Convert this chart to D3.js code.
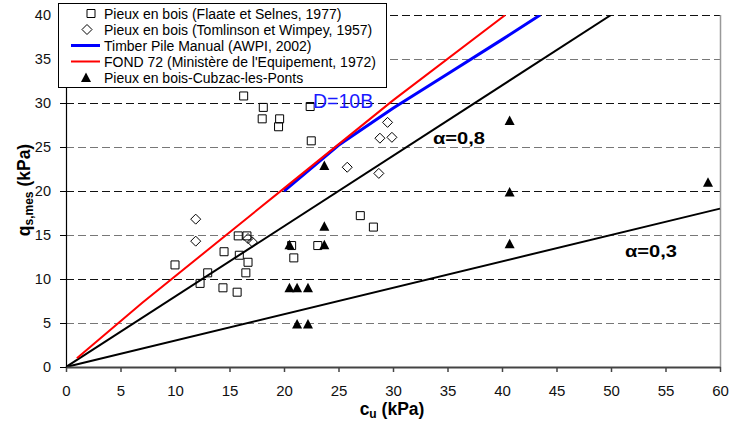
<!DOCTYPE html>
<html><head><meta charset="utf-8">
<script src="https://cdn.jsdelivr.net/npm/d3@7"></script>
<style>body{margin:0;background:#fff}svg{display:block}text{font-family:"Liberation Sans",Arial,sans-serif}</style>
</head><body>
<svg id="c" width="731" height="425"></svg>
<script>
// ---- data ----
const xTicks = [0,5,10,15,20,25,30,35,40,45,50,55,60];
const yTicks = [0,5,10,15,20,25,30,35,40];
const flaateCu = [16.3,18.1,18.0,19.6,19.5,22.4,22.5,27.0,28.2,16.6,20.7,23.1,20.9,16.7,16.5,10.0,13.0,12.3,14.5,14.4,15.7,15.8,15.9];
const flaateQ  = [30.8,29.5,28.2,28.2,27.3,29.6,25.7,17.2,15.9,14.9,13.8,13.8,12.4,11.9,10.7,11.6,10.7,9.5,13.1,9.0,8.5,14.9,12.7];
const tomlinsonCu = [11.9,11.9,16.7,17.1,29.5,28.8,29.9,25.8,28.7];
const tomlinsonQ  = [16.8,14.3,14.6,14.2,27.8,26.0,26.1,22.7,22.0];
const cubzacCu = [23.7,23.7,20.5,23.7,20.5,21.2,22.2,21.2,22.2,40.7,40.7,40.7,58.9];
const cubzacQ  = [22.9,16.0,13.9,13.9,9.0,9.0,9.0,4.9,4.9,28.0,19.9,14.0,21.0];
const timberCu = [20,25,30,35,40,43.5];
const timberQ  = [20,25.2,29.4,33.3,37.2,40];
const fondCu = [1,7,20,30,40.3];
const fondQ  = [1,7.3,20.3,30.3,40];
const alpha08Cu = [0,50], alpha08Q = [0,40];
const alpha03Cu = [0,60], alpha03Q = [0,18];
const legendLabels = ["Pieux en bois (Flaate et Selnes, 1977)","Pieux en bois (Tomlinson et Wimpey, 1957)","Timber Pile Manual (AWPI, 2002)","FOND 72 (Ministère de l'Equipement, 1972)","Pieux en bois-Cubzac-les-Ponts"];

// ---- chart ----
const svg = d3.select("#c");
const L=66,R=720,T=15,B=367;
const x = d3.scaleLinear([0,60],[L,R]);
const y = d3.scaleLinear([0,40],[B,T]);

svg.append("clipPath").attr("id","clip").append("rect").attr("x",L).attr("y",T).attr("width",R-L).attr("height",B-T);

// gridlines
svg.append("g").selectAll("line").data(yTicks.filter(d=>d>0)).join("line")
  .attr("x1",L).attr("x2",R).attr("y1",d=>Math.round(y(d))+0.5).attr("y2",d=>Math.round(y(d))+0.5)
  .attr("stroke",d=>d%10===0?"#111":"#777").attr("stroke-width",1).attr("stroke-dasharray","8,4");

// right border
svg.append("line").attr("x1",R+0.5).attr("x2",R+0.5).attr("y1",T).attr("y2",B).attr("stroke","#999").attr("stroke-width",1.5);

// lines
const line = (cu,q)=>d3.line().x((d,i)=>x(cu[i])).y((d,i)=>y(q[i]))(cu);
const gl = svg.append("g").attr("clip-path","url(#clip)");
gl.append("path").attr("d",line(alpha08Cu,alpha08Q)).attr("fill","none").attr("stroke","#000").attr("stroke-width",2);
svg.append("path").attr("d",line(alpha03Cu,alpha03Q)).attr("fill","none").attr("stroke","#000").attr("stroke-width",2);
gl.append("path").attr("d",line(timberCu,timberQ)).attr("fill","none").attr("stroke","#0000ff").attr("stroke-width",3);
gl.append("path").attr("d",line(fondCu,fondQ)).attr("fill","none").attr("stroke","#ff0000").attr("stroke-width",2);

// markers
const sym = (type,size)=>d3.symbol().type(type).size(size)();
svg.append("g").selectAll("path").data(flaateCu).join("path")
  .attr("d",sym(d3.symbolSquare,64)).attr("transform",(d,i)=>`translate(${x(flaateCu[i])},${y(flaateQ[i])})`)
  .attr("fill","none").attr("stroke","#000").attr("stroke-width",1);
const diamond = "M0,-5L5,0L0,5L-5,0Z";
svg.append("g").selectAll("path").data(tomlinsonCu).join("path")
  .attr("d",diamond).attr("transform",(d,i)=>`translate(${x(tomlinsonCu[i])},${y(tomlinsonQ[i])})`)
  .attr("fill","none").attr("stroke","#000").attr("stroke-width",1);
const tri = "M0,-5L5,4.5L-5,4.5Z";
svg.append("g").selectAll("path").data(cubzacCu).join("path")
  .attr("d",tri).attr("transform",(d,i)=>`translate(${x(cubzacCu[i])},${y(cubzacQ[i])})`)
  .attr("fill","#000");

// axes
const gx = svg.append("g").attr("transform",`translate(0,${B})`)
  .call(d3.axisBottom(x).tickValues(xTicks).tickSize(5).tickPadding(13).tickSizeOuter(0));
gx.select(".domain").attr("stroke","#444").attr("stroke-width",2);
gx.selectAll(".tick line").attr("stroke","#444").attr("stroke-width",1.5);
gx.selectAll("text").attr("font-size",15).attr("fill","#111").style("font-family","Liberation Sans, Arial");
const gy = svg.append("g").attr("transform",`translate(${L},0)`)
  .call(d3.axisLeft(y).tickValues(yTicks).tickSize(6).tickPadding(9).tickSizeOuter(0));
gy.select(".domain").attr("stroke","#000").attr("stroke-width",1.2);
gy.selectAll(".tick line").attr("stroke","#000");
gy.selectAll("text").attr("font-size",14.5).attr("fill","#111").style("font-family","Liberation Sans, Arial");

// labels
svg.append("text").attr("x",313).attr("y",108).attr("font-size",19.5).attr("fill","#1a1aff").text("D=10B");
svg.append("text").attr("x",433).attr("y",144).attr("font-size",17).attr("font-weight","bold")
  .attr("textLength",52).attr("lengthAdjust","spacingAndGlyphs").text("α=0,8");
svg.append("text").attr("x",625).attr("y",257).attr("font-size",17).attr("font-weight","bold")
  .attr("textLength",52).attr("lengthAdjust","spacingAndGlyphs").text("α=0,3");

// axis titles
const xt = svg.append("text").attr("x",392).attr("y",415).attr("text-anchor","middle").attr("font-size",17.5).attr("font-weight","bold");
xt.append("tspan").text("c");
xt.append("tspan").attr("font-size",12).attr("dy",3).text("u");
xt.append("tspan").attr("dy",-3).text(" (kPa)");
const yt = svg.append("text").attr("transform","translate(30,190) rotate(-90)").attr("text-anchor","middle").attr("font-size",17.5).attr("font-weight","bold");
yt.append("tspan").text("q");
yt.append("tspan").attr("font-size",12).attr("dy",3).text("s,mes");
yt.append("tspan").attr("dy",-3).text(" (kPa)");

// legend
const lg = svg.append("g");
lg.append("rect").attr("x",58.5).attr("y",3.5).attr("width",328).attr("height",84).attr("fill","#fff").attr("stroke","#000");
const rows = [13.5,29.5,45.5,61.5,77.5];
lg.append("path").attr("d",sym(d3.symbolSquare,64)).attr("transform",`translate(91,${rows[0]})`).attr("fill","none").attr("stroke","#000");
lg.append("path").attr("d",diamond).attr("transform",`translate(87,${rows[1]})`).attr("fill","none").attr("stroke","#000");
lg.append("line").attr("x1",71).attr("x2",100).attr("y1",rows[2]).attr("y2",rows[2]).attr("stroke","#0000ff").attr("stroke-width",3);
lg.append("line").attr("x1",71).attr("x2",100).attr("y1",rows[3]).attr("y2",rows[3]).attr("stroke","#ff0000").attr("stroke-width",2);
lg.append("path").attr("d",tri).attr("transform",`translate(86,${rows[4]})`).attr("fill","#000");
lg.selectAll("text.l").data(legendLabels).join("text").attr("class","l")
  .attr("x",104).attr("y",(d,i)=>rows[i]+5).attr("font-size",14).attr("fill","#000").text(d=>d);
</script>
</body></html>
